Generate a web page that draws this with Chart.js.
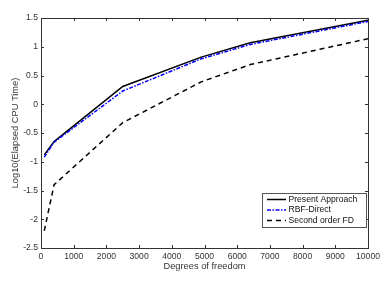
<!DOCTYPE html>
<html>
<head>
<meta charset="utf-8">
<script src="https://cdn.jsdelivr.net/npm/chart.js@4.4.1/dist/chart.umd.min.js"></script>
<style>
  html, body { margin: 0; padding: 0; background: #fff; }
  #wrap { width: 392px; height: 287px; }
</style>
</head>
<body>
<div id="wrap"><canvas id="cpuChart" width="392" height="287"></canvas></div>
<script>
// data (degrees of freedom = N^2 grids)
const dof = [100, 400, 2500, 4900, 6400, 10000];
const presentApproach = [-0.88, -0.65, 0.31, 0.82, 1.07, 1.46];
const rbfDirect = [-0.92, -0.66, 0.23, 0.79, 1.04, 1.44];
const secondOrderFD = [-2.2, -1.4, -0.32, 0.39, 0.69, 1.14];
const seriesNames = ['Present Approach', 'RBF-Direct', 'Second order FD'];
const xTicks = [0, 1000, 2000, 3000, 4000, 5000, 6000, 7000, 8000, 9000, 10000];
const yTicks = [-2.5, -2, -1.5, -1, -0.5, 0, 0.5, 1, 1.5];

const FONT = 'Liberation Sans, Arial, Helvetica, sans-serif';

function pts(ys) {
    return dof.map((x, i) => ({ x: x, y: ys[i] }));
}

// matlab style box + inward ticks
const boxTicks = {
    id: 'boxTicks',
    afterDatasetsDraw(chart) {
        const { ctx, chartArea: a, scales } = chart;
        ctx.save();
        ctx.strokeStyle = '#333';
        ctx.lineWidth = 1;
        ctx.beginPath();
        xTicks.forEach(v => {
            const px = Math.round(scales.x.getPixelForValue(v)) + 0.5;
            ctx.moveTo(px, a.bottom); ctx.lineTo(px, a.bottom - 3);
            ctx.moveTo(px, a.top); ctx.lineTo(px, a.top + 3);
        });
        yTicks.forEach(v => {
            const py = Math.round(scales.y.getPixelForValue(v)) + 0.5;
            ctx.moveTo(a.left, py); ctx.lineTo(a.left + 3, py);
            ctx.moveTo(a.right, py); ctx.lineTo(a.right - 3, py);
        });
        ctx.stroke();
        ctx.strokeRect(Math.round(a.left) + 0.5, Math.round(a.top) + 0.5,
            Math.round(a.right - a.left), Math.round(a.bottom - a.top));
        ctx.restore();
    }
};

// legend box in lower right corner
const boxLegend = {
    id: 'boxLegend',
    afterDraw(chart) {
        const ctx = chart.ctx;
        const a = chart.chartArea;
        const x0 = a.right - 106, y0 = a.bottom - 55, w = 104, h = 34;
        ctx.save();
        ctx.fillStyle = '#fff';
        ctx.fillRect(x0, y0, w, h);
        ctx.strokeStyle = '#555';
        ctx.lineWidth = 1;
        ctx.strokeRect(x0 + 0.5, y0 + 0.5, w, h);
        ctx.font = '8.6px ' + FONT;
        ctx.textBaseline = 'middle';
        chart.data.datasets.forEach((ds, i) => {
            const yy = y0 + 6.5 + i * 10.5;
            ctx.strokeStyle = ds.borderColor;
            ctx.lineWidth = ds.borderWidth;
            ctx.setLineDash(ds.borderDash || []);
            ctx.beginPath();
            ctx.moveTo(x0 + 5, yy);
            ctx.lineTo(x0 + 24, yy);
            ctx.stroke();
            ctx.setLineDash([]);
            ctx.fillStyle = '#111';
            ctx.fillText(ds.label, x0 + 26.5, yy);
        });
        ctx.restore();
    }
};

new Chart(document.getElementById('cpuChart'), {
    type: 'line',
    data: {
        datasets: [
            { label: seriesNames[0], data: pts(presentApproach), borderColor: '#000', borderWidth: 1.5, order: 2 },
            { label: seriesNames[1], data: pts(rbfDirect), borderColor: '#0000ff', borderWidth: 1.5, borderDash: [4, 1.5, 1.5, 1.5], order: 1 },
            { label: seriesNames[2], data: pts(secondOrderFD), borderColor: '#000', borderWidth: 1.5, borderDash: [5, 4], order: 3 }
        ]
    },
    options: {
        responsive: false,
        animation: false,
        layout: { padding: { top: 18, right: 24, left: 0, bottom: 0 } },
        elements: { point: { radius: 0 }, line: { tension: 0 } },
        plugins: { legend: { display: false }, tooltip: { enabled: false } },
        scales: {
            x: {
                type: 'linear', min: 0, max: 10000,
                afterBuildTicks: s => { s.ticks = xTicks.map(v => ({ value: v })); },
                afterFit: s => { s.height = 39; },
                grid: { display: false, drawTicks: false },
                border: { display: false },
                ticks: { color: '#333', font: { family: FONT, size: 8.6 }, padding: 3, maxRotation: 0, callback: v => String(v) },
                title: { display: true, text: 'Degrees of freedom', color: '#333', font: { family: FONT, size: 9.3 }, padding: { top: 0, bottom: 15 } }
            },
            y: {
                type: 'linear', min: -2.5, max: 1.5,
                afterBuildTicks: s => { s.ticks = yTicks.map(v => ({ value: v })); },
                afterFit: s => { s.width = 41; },
                grid: { display: false, drawTicks: false },
                border: { display: false },
                ticks: { color: '#333', font: { family: FONT, size: 8.6 }, padding: 3, callback: v => String(v) },
                title: { display: true, text: 'Log10(Elapsed CPU Time)', color: '#333', font: { family: FONT, size: 9.3 }, padding: { top: 10, bottom: 0 } }
            }
        }
    },
    plugins: [boxTicks, boxLegend]
});
</script>
</body>
</html>
